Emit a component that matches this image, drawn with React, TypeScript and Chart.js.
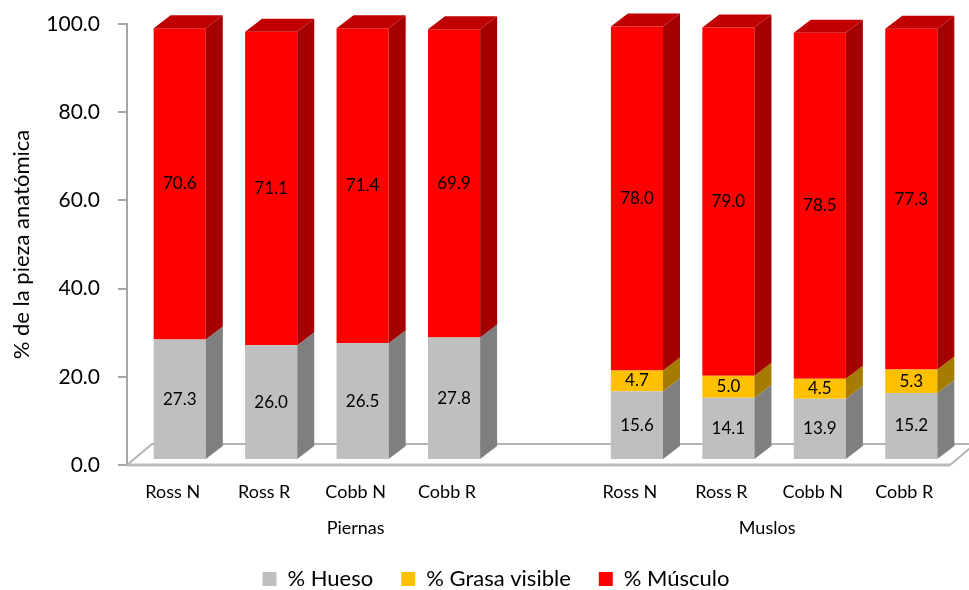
import React, { useEffect, useRef } from 'react';
import { Chart, registerables } from 'chart.js';

Chart.register(...registerables);

// ---- data ----
const categories = ['Ross N', 'Ross R', 'Cobb N', 'Cobb R', '', 'Ross N', 'Ross R', 'Cobb N', 'Cobb R'];
const groupLabels = ['Piernas', 'Muslos'];
const groupRanges = [[0, 4], [5, 8]];
const hueso = [27.3, 26.0, 26.5, 27.8, null, 15.6, 14.1, 13.9, 15.2];
const grasa = [null, null, null, null, null, 4.7, 5.0, 4.5, 5.3];
const musculo = [70.6, 71.1, 71.4, 69.9, null, 78.0, 79.0, 78.5, 77.3];
const seriesNames = ['% Hueso', '% Grasa visible', '% Músculo'];
const yMin = 0;
const yMax = 100;
const yStep = 20;

// ---- styles ----
const FRONT = ['#bfbfbf', '#ffc000', '#ff0000'];
const SIDE = ['#7f7f7f', '#a67c00', '#a50000'];
const TOP = ['#d9d9d9', '#d9a300', '#c00000'];
const OFF_X = 7;
const OFF_Y = -5;
const DX = 17;
const DY = -13;
const FLOOR_DX = 25;
const FLOOR_DY = -21;
const LEGEND_CENTER = 496;

const threeD = {
  id: 'threeD',
  beforeDatasetsDraw(chart: any) {
    const { ctx, chartArea } = chart;
    const { left, right, bottom } = chartArea;
    ctx.save();
    ctx.strokeStyle = '#b4b4b4';
    ctx.lineWidth = 2;
    ctx.beginPath();
    ctx.moveTo(left, bottom);
    ctx.lineTo(left + FLOOR_DX, bottom + FLOOR_DY);
    ctx.lineTo(right + FLOOR_DX, bottom + FLOOR_DY);
    ctx.lineTo(right, bottom);
    ctx.stroke();
    ctx.lineWidth = 3;
    ctx.strokeStyle = '#bcbcbc';
    ctx.beginPath();
    ctx.moveTo(left, bottom);
    ctx.lineTo(right, bottom);
    ctx.stroke();
    ctx.restore();
    ctx.save();
    ctx.translate(OFF_X, OFF_Y);
  },
  afterDatasetsDraw(chart: any) {
    const { ctx } = chart;
    const nDs = chart.data.datasets.length;
    const n = chart.data.labels.length;
    for (let i = 0; i < n; i++) {
      let lastDs = -1;
      for (let d = 0; d < nDs; d++) {
        if (chart.data.datasets[d].data[i] != null) lastDs = d;
      }
      for (let d = 0; d < nDs; d++) {
        const v = chart.data.datasets[d].data[i];
        if (v == null) continue;
        const el = chart.getDatasetMeta(d).data[i];
        const p = el.getProps(['x', 'y', 'base', 'width'], true);
        const l = p.x - p.width / 2;
        const r = p.x + p.width / 2;
        const top = Math.min(p.y, p.base);
        const bot = Math.max(p.y, p.base);
        ctx.fillStyle = SIDE[d];
        ctx.beginPath();
        ctx.moveTo(r, top);
        ctx.lineTo(r + DX, top + DY);
        ctx.lineTo(r + DX, bot + DY);
        ctx.lineTo(r, bot);
        ctx.closePath();
        ctx.fill();
        if (d === lastDs) {
          ctx.fillStyle = TOP[d];
          ctx.beginPath();
          ctx.moveTo(l, top);
          ctx.lineTo(l + DX, top + DY);
          ctx.lineTo(r + DX, top + DY);
          ctx.lineTo(r, top);
          ctx.closePath();
          ctx.fill();
        }
        ctx.fillStyle = '#000';
        ctx.font = '17px Lato';
        ctx.textAlign = 'center';
        ctx.textBaseline = 'middle';
        ctx.fillText(Number(v).toFixed(1), p.x, (top + bot) / 2);
      }
    }
    ctx.restore();
  },
  afterLayout(chart: any) {
    const lg = chart.legend;
    if (lg) {
      const shift = LEGEND_CENTER - (lg.left + lg.right) / 2;
      lg.left += shift;
      lg.right += shift;
    }
  },
  afterDraw(chart: any) {
    const { ctx } = chart;
    const xs = chart.scales.x;
    ctx.save();
    ctx.fillStyle = '#000';
    ctx.font = '18px Lato';
    ctx.textAlign = 'center';
    ctx.textBaseline = 'middle';
    groupLabels.forEach((g, k) => {
      const [a, b] = groupRanges[k];
      const cx = (xs.getPixelForValue(a) + xs.getPixelForValue(b)) / 2;
      ctx.fillText(g, cx, 528);
    });
    ctx.restore();
  },
};

export default function App() {
  const ref = useRef<HTMLCanvasElement | null>(null);
  useEffect(() => {
    document.body.style.margin = '0';
    if (!ref.current) return;
    Chart.defaults.font.family = 'Lato';
    const chart = new Chart(ref.current, {
      type: 'bar',
      data: {
        labels: categories,
        datasets: [hueso, grasa, musculo].map((data, k) => ({
          label: seriesNames[k],
          data,
          backgroundColor: FRONT[k],
          borderWidth: 0,
          categoryPercentage: 1,
          barPercentage: 0.57,
          clip: false as any,
        })),
      },
      options: {
        animation: false,
        responsive: true,
        maintainAspectRatio: false,
        layout: { padding: { left: 0, top: 24, right: 19, bottom: -10 } },
        plugins: {
          tooltip: { enabled: false },
          legend: {
            position: 'bottom',
            labels: {
              boxWidth: 14,
              boxHeight: 14,
              padding: 28,
              color: '#000',
              font: { size: 22, family: 'Lato' },
            },
          },
        },
        scales: {
          x: {
            stacked: true,
            grid: { display: false },
            border: { display: false },
            ticks: {
              color: '#000',
              font: { size: 18, family: 'Lato' },
              padding: 8,
              maxRotation: 0,
              autoSkip: false,
            },
            afterFit: (s: any) => {
              s.height = 75;
            },
          },
          y: {
            stacked: true,
            min: yMin,
            max: yMax,
            ticks: {
              stepSize: yStep,
              color: '#000',
              font: { size: 21, family: 'Lato' },
              padding: 18,
              callback: (v: any) => Number(v).toFixed(1),
            },
            grid: {
              drawOnChartArea: false,
              drawTicks: true,
              tickLength: 9,
              color: '#a6a6a6',
              lineWidth: 2,
            },
            border: { display: true, color: '#a6a6a6', width: 2 },
            title: {
              display: true,
              text: '% de la pieza anatómica',
              color: '#000',
              font: { size: 22, family: 'Lato' },
              padding: { top: 9, bottom: 0 },
            },
            afterFit: (s: any) => {
              s.width = 127;
              s.paddingTop = 0;
              s.paddingBottom = 0;
            },
          },
        },
      },
      plugins: [threeD],
    });
    return () => chart.destroy();
  }, []);
  return (
    <div style={{ width: 969, height: 590, position: 'relative' }}>
      <canvas ref={ref} />
    </div>
  );
}
